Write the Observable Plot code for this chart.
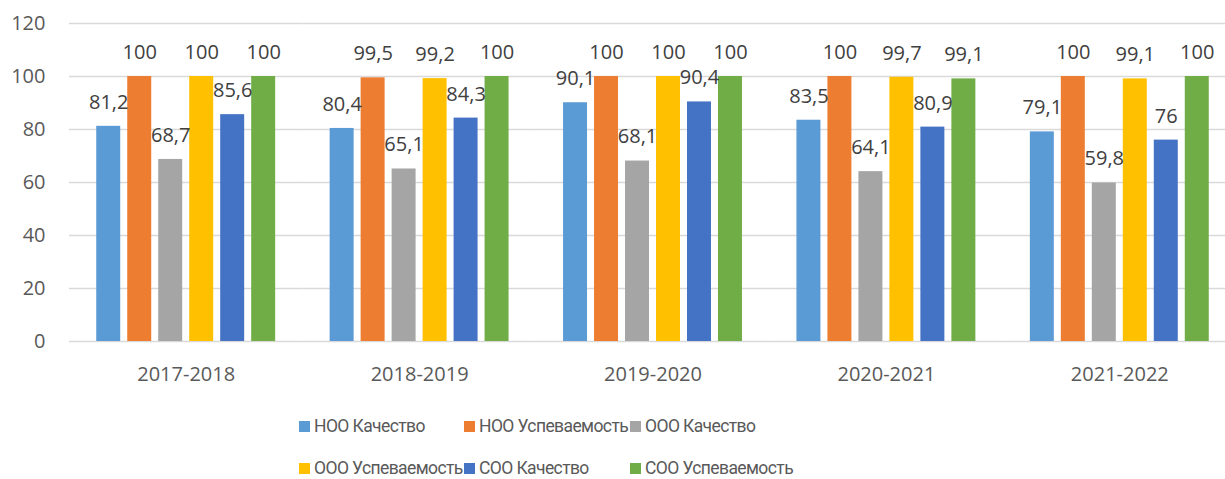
<!DOCTYPE html>
<html>
<head>
<meta charset="utf-8">
<script src="https://cdn.jsdelivr.net/npm/d3@7"></script>
<script src="https://cdn.jsdelivr.net/npm/@observablehq/plot@0.6"></script>
<style>
  html, body { margin: 0; padding: 0; background: #fff; }
  #wrap { width: 1225px; height: 479px; overflow: hidden; position: relative; font-family: "Open Sans", sans-serif; }
  #legend { position: relative; height: 79px; width: 1225px; }
  .item { position: absolute; display: flex; align-items: center; font-family: Roboto, sans-serif; font-size: 17.5px; letter-spacing: -0.6px; color: #595959; white-space: nowrap; transform: translateY(-50%); }
  .sw { width: 11px; height: 11px; margin-right: 4px; flex: none; }
</style>
</head>
<body>
<div id="wrap"><div id="chart"></div><div id="legend"></div></div>
<script>
const years = ["2017-2018", "2018-2019", "2019-2020", "2020-2021", "2021-2022"];
const series = ["НОО Качество", "НОО Успеваемость", "ООО Качество", "ООО Успеваемость", "СОО Качество", "СОО Успеваемость"];
const nooQuality = [81.2, 80.4, 90.1, 83.5, 79.1];
const nooSuccess = [100, 99.5, 100, 100, 100];
const oooQuality = [68.7, 65.1, 68.1, 64.1, 59.8];
const oooSuccess = [100, 99.2, 100, 99.7, 99.1];
const sooQuality = [85.6, 84.3, 90.4, 80.9, 76];
const sooSuccess = [100, 100, 100, 99.1, 100];
const yTicks = [0, 20, 40, 60, 80, 100, 120];
const colors = ["#5B9BD5", "#ED7D31", "#A5A5A5", "#FFC000", "#4472C4", "#70AD47"];

const valueSets = [nooQuality, nooSuccess, oooQuality, oooSuccess, sooQuality, sooSuccess];
const data = [];
years.forEach((yr, i) => {
  series.forEach((s, j) => {
    data.push({year: yr, series: s, value: valueSets[j][i]});
  });
});
const fmt = v => String(v).replace(".", ",");

const chart = Plot.plot({
  width: 1225,
  height: 400,
  marginLeft: 69,
  marginRight: -11,
  marginTop: 23,
  marginBottom: 59,
  style: {fontFamily: "Open Sans", fontSize: "20px", background: "#fff", color: "#595959", overflow: "hidden"},
  fx: {domain: years, padding: 0, round: false, label: null, tickSize: 0, tickPadding: 25, axis: "bottom"},
  x: {domain: series, paddingInner: 0.226, paddingOuter: 0.879, round: false, axis: null},
  y: {domain: [0, 120], axis: null},
  color: {domain: series, range: colors},
  marks: [
    Plot.gridY(yTicks, {stroke: "#d9d9d9", strokeOpacity: 1, strokeWidth: 1.3}),
    Plot.barY(data, {fx: "year", x: "series", y: "value", fill: "series"}),
    Plot.text(data, {fx: "year", x: "series", y: "value", text: d => fmt(d.value), dy: -24, fill: "#404040", fontSize: 20}),
    Plot.axisY(yTicks, {tickSize: 0, tickPadding: 24, color: "#595959", fontSize: 20, label: null})
  ]
});
document.getElementById("chart").appendChild(chart);

const legend = document.getElementById("legend");
const cols = [299, 464, 630];
const rows = [26, 68];
series.forEach((s, i) => {
  const el = document.createElement("div");
  el.className = "item";
  el.style.left = cols[i % 3] + "px";
  el.style.top = rows[Math.floor(i / 3)] + "px";
  el.innerHTML = `<span class="sw" style="background:${colors[i]}"></span><span>${s}</span>`;
  legend.appendChild(el);
});
</script>
</body>
</html>
